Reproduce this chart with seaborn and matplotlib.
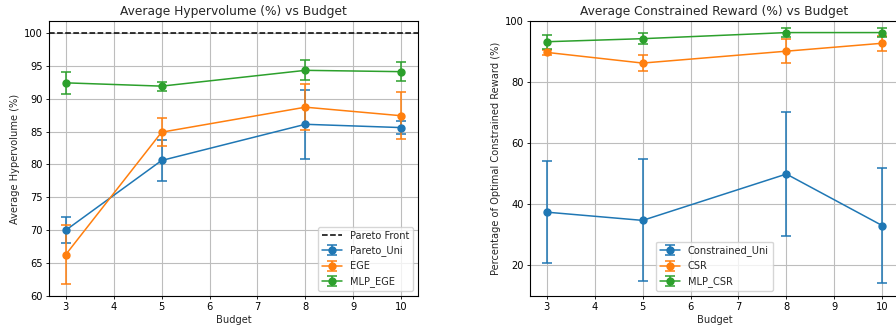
import matplotlib
matplotlib.use("Agg")
import matplotlib.pyplot as plt
import seaborn as sns

budgets = [3, 5, 8, 10]

# Hypervolume (%)
pareto_uni = [70.0, 80.6, 86.1, 85.6]
pareto_uni_err = [1.95, 3.1, 5.2, 1.0]
ege = [66.3, 84.9, 88.7, 87.4]
ege_err = [4.5, 2.15, 3.5, 3.55]
mlp_ege = [92.4, 91.9, 94.3, 94.1]
mlp_ege_err = [1.65, 0.7, 1.5, 1.4]
pareto_front = 100

# Constrained reward (%)
constrained_uni = [37.3, 34.6, 49.8, 32.9]
constrained_uni_err = [16.65, 20.0, 20.4, 18.95]
csr = [89.7, 86.2, 90.1, 92.7]
csr_err = [0.8, 2.7, 4.0, 2.5]
mlp_csr = [93.2, 94.2, 96.2, 96.2]
mlp_csr_err = [2.3, 1.9, 1.55, 1.5]

sns.set_style("ticks", {"axes.grid": True})
plt.rcParams["font.family"] = ["DejaVu Sans"]
plt.rcParams["grid.color"] = "#bdbdbd"
plt.rcParams["grid.linewidth"] = 0.8
plt.rcParams["axes.edgecolor"] = "black"
plt.rcParams["xtick.color"] = "black"
plt.rcParams["ytick.color"] = "black"

pal = sns.color_palette("tab10")
fs_small = 7.1
fs_title = 8.8

fig = plt.figure(figsize=(8.96, 3.29), dpi=100)
ax1 = fig.add_axes([49 / 896, 33 / 329, 369 / 896, 275 / 329])
ax2 = fig.add_axes([530 / 896, 33 / 329, 369 / 896, 275 / 329])

kw = dict(marker="o", markersize=5, linewidth=1.1, capsize=3.6, elinewidth=1.1, capthick=1.1)

ax1.axhline(pareto_front, color="black", linestyle="--", linewidth=1.1, label="Pareto Front")
ax1.errorbar(budgets, pareto_uni, yerr=pareto_uni_err, color=pal[0], label="Pareto_Uni", **kw)
ax1.errorbar(budgets, ege, yerr=ege_err, color=pal[1], label="EGE", **kw)
ax1.errorbar(budgets, mlp_ege, yerr=mlp_ege_err, color=pal[2], label="MLP_EGE", **kw)
ax1.set_ylim(60, 101.8)
ax1.set_title("Average Hypervolume (%) vs Budget", fontsize=fs_title, pad=4)
ax1.set_xlabel("Budget", fontsize=fs_small, labelpad=2)
ax1.set_ylabel("Average Hypervolume (%)", fontsize=fs_small, labelpad=3)
ax1.legend(loc="lower right", fontsize=fs_small)

ax2.errorbar(budgets, constrained_uni, yerr=constrained_uni_err, color=pal[0], label="Constrained_Uni", **kw)
ax2.errorbar(budgets, csr, yerr=csr_err, color=pal[1], label="CSR", **kw)
ax2.errorbar(budgets, mlp_csr, yerr=mlp_csr_err, color=pal[2], label="MLP_CSR", **kw)
ax2.set_ylim(9.8, 100)
ax2.set_title("Average Constrained Reward (%) vs Budget", fontsize=fs_title, pad=4)
ax2.set_xlabel("Budget", fontsize=fs_small, labelpad=2)
ax2.set_ylabel("Percentage of Optimal Constrained Reward (%)", fontsize=fs_small, labelpad=3)
ax2.legend(loc="lower center", fontsize=fs_small)

for ax in (ax1, ax2):
    ax.tick_params(labelsize=fs_small, length=2.5, width=0.6, pad=2)
    for s in ax.spines.values():
        s.set_linewidth(0.8)

fig.savefig("out.png", dpi=100)
